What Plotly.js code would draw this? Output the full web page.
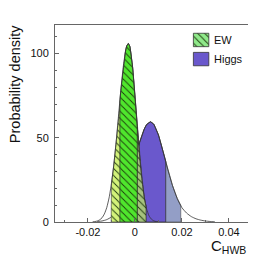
<!DOCTYPE html>
<html>
<head>
<meta charset="utf-8">
<script src="https://cdn.plot.ly/plotly-3.0.1.min.js"></script>
<style>html,body{margin:0;padding:0;background:#fff;}#chart{width:276px;height:262px;}</style>
</head>
<body>
<div id="chart"></div>
<script>
// ---- data ----
const ewX = [-0.018,-0.017,-0.016,-0.015,-0.014,-0.013,-0.012,-0.011,-0.010,-0.009,-0.008,-0.007,-0.006,-0.005,-0.004,-0.0035,-0.0028,-0.0022,-0.002,-0.001,0.000,0.001,0.002,0.003,0.004,0.005,0.006,0.007,0.008,0.009,0.010];
const ewY = [0.1,0.27,0.6,1.3,2.5,4.8,8.5,14.3,22.7,33.8,47.4,62.8,78.2,91.8,101.5,104.5,106.0,104.4,103.1,92.1,75.5,56.7,39.1,24.7,14.3,7.6,3.7,1.7,0.7,0.25,0.1];
const higgsX = [-0.016,-0.014,-0.012,-0.010,-0.008,-0.006,-0.004,-0.002,0.000,0.002,0.004,0.005,0.0066,0.008,0.010,0.012,0.014,0.016,0.018,0.020,0.022,0.024,0.026,0.028,0.030,0.032,0.034];
const higgsY = [0.3,0.6,1.4,3.0,5.9,10.7,17.7,26.7,37.2,47.3,55.3,57.9,59.5,58.1,51.7,41.7,31.1,21.6,14.0,8.5,5.3,3.2,1.9,1.1,0.6,0.3,0.1];
const ew68 = [-0.0064, 0.0010];
const ew95 = [-0.0101, 0.0047];
const higgs68 = [0.0006, 0.0131];
const higgs95 = [-0.0060, 0.0195];
const legendNames = ["EW", "Higgs"];
const xTickVals = [-0.02, 0, 0.02, 0.04];
const xTickText = ["-0.02", "0", "0.02", "0.04"];
const yTickVals = [0, 50, 100];
const yTickText = ["0", "50", "100"];

// ---- helpers ----
function interp(xs, ys, x) {
  if (x <= xs[0]) return ys[0];
  for (let i = 1; i < xs.length; i++) {
    if (x <= xs[i]) {
      const t = (x - xs[i-1]) / (xs[i] - xs[i-1]);
      return ys[i-1] + t * (ys[i] - ys[i-1]);
    }
  }
  return ys[ys.length-1];
}
function band(xs, ys, lo, hi) {
  const bx = [lo, lo], by = [0, interp(xs, ys, lo)];
  for (let i = 0; i < xs.length; i++) {
    if (xs[i] > lo && xs[i] < hi) { bx.push(xs[i]); by.push(ys[i]); }
  }
  bx.push(hi, hi, lo); by.push(interp(xs, ys, hi), 0, 0);
  return {x: bx, y: by};
}
const outline = {color: '#333333', width: 0.8};
const hatch = (bg) => ({shape: '\\', bgcolor: bg, fgcolor: '#1d3a0c', size: 5, solidity: 0.18});

const hb95 = band(higgsX, higgsY, higgs95[0], higgs95[1]);
const hb68 = band(higgsX, higgsY, higgs68[0], higgs68[1]);
const eb95 = band(ewX, ewY, ew95[0], ew95[1]);
const eb68 = band(ewX, ewY, ew68[0], ew68[1]);
const ebR = band(ewX, ewY, ew68[1], ew95[1]);

const traces = [
  {x: hb95.x, y: hb95.y, type: 'scatter', mode: 'lines', fill: 'toself', fillcolor: '#939ec6', line: {color: '#444', width: 0.6}, hoverinfo: 'skip'},
  {x: hb68.x, y: hb68.y, type: 'scatter', mode: 'lines', fill: 'toself', fillcolor: '#6a58cc', line: {color: '#333', width: 0.8}, hoverinfo: 'skip'},
  {x: higgsX, y: higgsY, type: 'scatter', mode: 'lines', line: Object.assign({shape: 'spline', smoothing: 0.6}, outline), hoverinfo: 'skip'},
  {x: eb95.x, y: eb95.y, type: 'scatter', mode: 'lines', fill: 'toself', fillcolor: '#d3f27a', fillpattern: hatch('#d3f27a'), line: {color: '#333', width: 0.6}, hoverinfo: 'skip'},
  {x: ebR.x, y: ebR.y, type: 'scatter', mode: 'lines', fill: 'toself', fillcolor: '#a6c27e', fillpattern: hatch('#a6c27e'), line: {color: '#333', width: 0.6}, hoverinfo: 'skip'},
  {x: eb68.x, y: eb68.y, type: 'scatter', mode: 'lines', fill: 'toself', fillcolor: '#4fe62d', fillpattern: hatch('#4fe62d'), line: {color: '#333', width: 0.8}, hoverinfo: 'skip'},
  {x: ewX, y: ewY, type: 'scatter', mode: 'lines', line: Object.assign({shape: 'spline', smoothing: 0.6}, outline), hoverinfo: 'skip'},
  // legend swatches on an overlay axis (paper-like 0..1)
  {x: [0.717,0.797,0.797,0.717,0.717], y: [0.890,0.890,0.958,0.958,0.890], xaxis: 'x2', yaxis: 'y2', type: 'scatter', mode: 'lines', fill: 'toself', fillcolor: '#8fe98a', fillpattern: hatch('#8fe98a'), line: {color: '#333', width: 0.8}, hoverinfo: 'skip'},
  {x: [0.717,0.797,0.797,0.717,0.717], y: [0.793,0.793,0.861,0.861,0.793], xaxis: 'x2', yaxis: 'y2', type: 'scatter', mode: 'lines', fill: 'toself', fillcolor: '#6a58cc', line: {color: '#333', width: 0.8}, hoverinfo: 'skip'}
];

const font = {family: 'Liberation Sans, Arial, sans-serif', size: 11, color: '#111'};
const layout = {
  width: 276, height: 262,
  margin: {l: 55, r: 28, t: 25, b: 40, pad: 0},
  paper_bgcolor: '#fff', plot_bgcolor: '#fff',
  showlegend: false,
  font: font,
  xaxis: {
    range: [-0.0340, 0.0481], showgrid: false, zeroline: false,
    showline: true, linecolor: '#666', linewidth: 1, mirror: true,
    ticks: 'inside', ticklen: 4, tickcolor: '#666',
    tickvals: xTickVals, ticktext: xTickText, tickfont: font,
    minor: {dtick: 0.01, ticks: 'inside', ticklen: 2, tickcolor: '#666'}
  },
  yaxis: {
    range: [0, 117], showgrid: false, zeroline: false,
    showline: true, linecolor: '#666', linewidth: 1, mirror: false,
    ticks: 'inside', ticklen: 4, tickcolor: '#666',
    tickvals: yTickVals, ticktext: yTickText, tickfont: font,
    ticklabelstandoff: 3,
    minor: {dtick: 10, ticks: 'inside', ticklen: 2, tickcolor: '#666'}
  },
  xaxis2: {overlaying: 'x', range: [0, 1], visible: false, fixedrange: true},
  yaxis2: {overlaying: 'y', range: [0, 1], visible: false, fixedrange: true},
  annotations: [
    {text: legendNames[0], xref: 'paper', yref: 'paper', x: 0.813, y: 0.924, xanchor: 'left', yanchor: 'middle', showarrow: false, font: {family: font.family, size: 11, color: '#111'}},
    {text: legendNames[1], xref: 'paper', yref: 'paper', x: 0.813, y: 0.827, xanchor: 'left', yanchor: 'middle', showarrow: false, font: {family: font.family, size: 11, color: '#111'}},
    {text: 'Probability density', xref: 'paper', yref: 'paper', x: -0.207, y: 0.70, xanchor: 'center', yanchor: 'middle', textangle: -90, showarrow: false, font: {family: font.family, size: 14.5, color: '#111'}},
    {text: 'C<sub>HWB</sub>', xref: 'paper', yref: 'paper', x: 1.0, y: -0.122, xanchor: 'right', yanchor: 'middle', showarrow: false, font: {family: font.family, size: 15, color: '#111'}}
  ]
};
Plotly.newPlot('chart', traces, layout, {staticPlot: true, displayModeBar: false});
</script>
</body>
</html>
